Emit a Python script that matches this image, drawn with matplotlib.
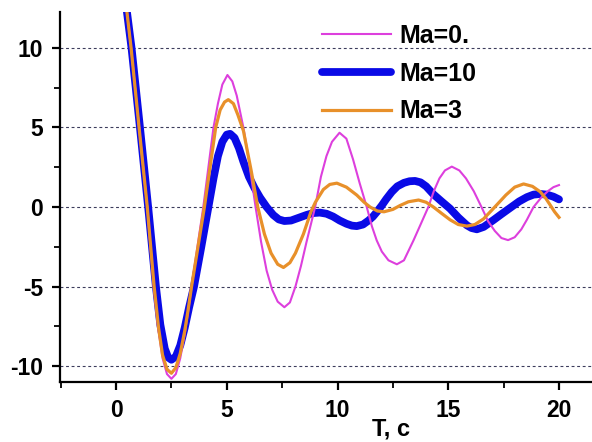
import matplotlib
matplotlib.use("Agg")
import matplotlib.pyplot as plt
from matplotlib.ticker import MultipleLocator

plt.rcParams["axes.unicode_minus"] = False

# ---- data ----
t_ma0 = [0.2, 0.48, 0.68, 1.04, 1.41, 1.70, 1.9, 2.1, 2.3, 2.5, 2.7, 2.9, 3.1, 3.25, 3.41,
         3.94, 4.4, 4.6, 4.8, 5.03, 5.25, 5.45, 5.75, 6.0, 6.3, 6.55, 6.8, 7.05, 7.3, 7.6,
         7.85, 8.1, 8.35, 8.6, 8.99, 9.25, 9.5, 9.75, 10.09, 10.4, 10.7, 11.0, 11.32,
         11.55, 11.77, 12.0, 12.3, 12.68, 13.0, 13.43, 13.75, 14.1, 14.35, 14.6, 14.85,
         15.16, 15.5, 15.8, 16.15, 16.5, 16.8, 17.1, 17.4, 17.7, 18.0, 18.3, 18.55, 18.85,
         19.2, 19.5, 19.75, 20.0]
y_ma0 = [15.5, 12.4, 10.0, 5.0, 0.0, -5.0, -7.6, -9.5, -10.5, -10.8, -10.5, -9.5, -8.0, -6.6, -5.0,
         0.0, 5.0, 6.5, 7.7, 8.3, 7.9, 7.0, 5.0, 2.9, 0.0, -2.2, -4.0, -5.2, -5.95, -6.3,
         -6.0, -5.0, -3.7, -2.2, 0.0, 1.9, 3.2, 4.1, 4.67, 4.3, 3.0, 1.5, 0.0,
         -1.2, -2.1, -2.8, -3.35, -3.6, -3.35, -2.1, -1.1, 0.0, 1.0, 1.8, 2.3,
         2.54, 2.3, 1.8, 1.0, 0.0, -0.9, -1.5, -1.95, -2.08, -1.9, -1.4, -0.8, 0.0,
         0.6, 1.0, 1.25, 1.38]

t_ma10 = [0.2, 0.48, 0.7, 1.08, 1.45, 1.8, 2.0, 2.2, 2.35, 2.5, 2.7, 2.9, 3.1, 3.3, 3.52,
          3.85, 4.17, 4.4, 4.6, 4.8, 5.0, 5.15, 5.35, 5.55, 5.75, 6.0, 6.25, 6.5, 6.8, 7.1,
          7.35, 7.6, 7.9, 8.2, 8.6, 8.9, 9.2, 9.5, 9.8, 10.1, 10.4, 10.65, 10.87, 11.15,
          11.4, 11.6, 11.78, 12.0, 12.2, 12.45, 12.7, 13.0, 13.25, 13.5, 13.75, 14.0, 14.33,
          14.7, 15.08, 15.45, 15.84, 16.05, 16.29, 16.6, 17.04, 17.4, 17.8, 18.2, 18.55,
          18.85, 19.15, 19.45, 19.75, 20.0]
y_ma10 = [15.5, 12.4, 10.0, 5.0, 0.0, -5.0, -7.4, -8.9, -9.45, -9.6, -9.4, -8.7, -7.6, -6.3, -5.0,
          -2.5, 0.0, 1.8, 3.2, 4.1, 4.55, 4.6, 4.35, 3.7, 2.85, 1.9, 1.2, 0.6, 0.0, -0.5,
          -0.78, -0.88, -0.85, -0.7, -0.5, -0.38, -0.35, -0.42, -0.6, -0.85, -1.05, -1.17, -1.2, -1.1,
          -0.85, -0.6, -0.3, 0.1, 0.5, 0.95, 1.3, 1.52, 1.62, 1.64, 1.55, 1.3, 0.8,
          0.35, -0.1, -0.65, -1.15, -1.32, -1.4, -1.25, -0.82, -0.45, -0.05, 0.35, 0.62,
          0.78, 0.82, 0.78, 0.65, 0.48]

t_ma3 = [0.2, 0.48, 0.68, 1.04, 1.41, 1.72, 1.92, 2.1, 2.3, 2.5, 2.7, 2.9, 3.1, 3.25, 3.41,
         3.99, 4.5, 4.7, 4.9, 5.07, 5.3, 5.5, 5.75, 6.1, 6.4, 6.7, 7.0, 7.3, 7.56, 7.85,
         8.1, 8.46, 8.8, 9.0, 9.36, 9.65, 9.97, 10.4, 10.87, 11.2, 11.47, 11.8, 12.1, 12.5,
         12.83, 13.2, 13.66, 14.0, 14.33, 14.7, 15.08, 15.45, 15.84, 16.2, 16.59, 17.1,
         17.6, 18.0, 18.4, 18.8, 19.15, 19.4, 19.6, 19.8, 20.0]
y_ma3 = [15.5, 12.4, 10.0, 5.0, 0.0, -5.0, -7.6, -9.3, -10.2, -10.45, -10.1, -9.2, -7.8, -6.5, -5.0,
         0.0, 5.0, 6.1, 6.6, 6.75, 6.5, 5.8, 4.8, 2.3, 0.0, -1.7, -2.9, -3.6, -3.8, -3.5,
         -2.9, -1.7, -0.3, 0.3, 1.1, 1.42, 1.5, 1.25, 0.75, 0.3, 0.0, -0.25, -0.3, -0.15,
         0.1, 0.33, 0.44, 0.3, 0.0, -0.4, -0.8, -1.1, -1.2, -1.1, -0.75, 0.0,
         0.75, 1.25, 1.45, 1.3, 0.96, 0.55, 0.13, -0.3, -0.65]

labels = ["Ma=0.", "Ma=10", "Ma=3"]
x_ticks = [0, 5, 10, 15, 20]
y_ticks = [-10, -5, 0, 5, 10]

FONT = "Liberation Sans"

fig = plt.figure(figsize=(5.92, 4.42), dpi=100)
ax = fig.add_axes([60 / 592, 60 / 442, 532 / 592, 370 / 442])

l10, = ax.plot(t_ma10, y_ma10, color="#0a0ae6", lw=5.6, solid_capstyle="round",
               solid_joinstyle="round", zorder=3)
l0, = ax.plot(t_ma0, y_ma0, color="#dd3fdd", lw=1.5, solid_joinstyle="round", zorder=4)
l3, = ax.plot(t_ma3, y_ma3, color="#e8902a", lw=2.3, solid_joinstyle="round", zorder=5)

ax.set_xlim(-2.53, 21.49)
ax.set_ylim(-11.0, 12.26)
ax.set_xticks(x_ticks)
ax.set_yticks(y_ticks)
ax.xaxis.set_minor_locator(MultipleLocator(2.5))
ax.yaxis.set_minor_locator(MultipleLocator(2.5))

for s in ("top", "right"):
    ax.spines[s].set_visible(False)
for s in ("left", "bottom"):
    ax.spines[s].set_linewidth(1.6)
    ax.spines[s].set_color("black")

ax.tick_params(which="major", direction="out", length=6, width=1.6, pad=6,
               labelsize=16.5)
ax.tick_params(which="minor", direction="out", length=4, width=1.3)
for lab in ax.get_xticklabels() + ax.get_yticklabels():
    lab.set_fontfamily(FONT)
    lab.set_fontweight("bold")

ax.yaxis.grid(True, which="major", linestyle=(0, (2.6, 2.4)), color="#3c3c5c",
              linewidth=0.8)
ax.set_axisbelow(True)

ax.set_xlabel("T, c", fontsize=17, fontweight="bold", fontfamily=FONT)
ax.xaxis.set_label_coords(0.622, -0.095)

leg = ax.legend([l0, l10, l3], labels, loc="upper left",
                bbox_to_anchor=((322 - 60) / 532, (382 - 24) / 370),
                frameon=False, borderpad=0, borderaxespad=0,
                handlelength=2.75, handletextpad=0.33, labelspacing=0.55,
                prop={"family": FONT, "weight": "bold", "size": 18})

fig.savefig("out.png", dpi=100)
